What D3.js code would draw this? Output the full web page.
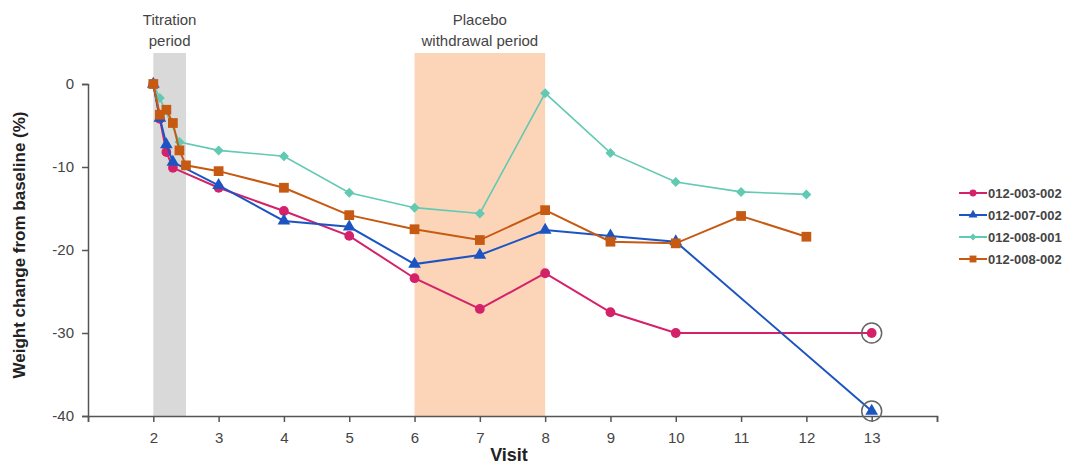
<!DOCTYPE html>
<html>
<head>
<meta charset="utf-8">
<script src="https://d3js.org/d3.v7.min.js"></script>
<style>
  body { margin: 0; background: #fff; }
  svg text { font-family: "Liberation Sans", Arial, sans-serif; }
</style>
</head>
<body>
<div id="chart"></div>
<script>
// visits (titration visits are spread between 2 and 2.5)
var visitTicks = [1, 2, 3, 4, 5, 6, 7, 8, 9, 10, 11, 12, 13, 14];
var yTicks = [0, -10, -20, -30, -40];
var seriesNames = ["012-003-002", "012-007-002", "012-008-001", "012-008-002"];
var seriesColors = ["#d5206a", "#1c55c2", "#62c9b2", "#c65a12"];
var seriesShapes = ["circle", "triangle", "diamond", "square"];

var visits_003_002 = [2, 2.1, 2.2, 2.3, 3, 4, 5, 6, 7, 8, 9, 10, 13];
var weight_003_002 = [0, -4.2, -8.2, -10.1, -12.5, -15.3, -18.3, -23.4, -27.1, -22.8, -27.5, -30.0, -30.0];

var visits_007_002 = [2, 2.1, 2.2, 2.3, 3, 4, 5, 6, 7, 8, 9, 10, 13];
var weight_007_002 = [0, -4.1, -7.3, -9.4, -12.2, -16.5, -17.2, -21.7, -20.6, -17.6, -18.3, -19.0, -39.4];

var visits_008_001 = [2, 2.1, 2.4, 3, 4, 5, 6, 7, 8, 9, 10, 11, 12];
var weight_008_001 = [0, -1.7, -7.0, -8.0, -8.7, -13.1, -14.9, -15.6, -1.1, -8.3, -11.8, -13.0, -13.3];

var visits_008_002 = [2, 2.1, 2.2, 2.3, 2.4, 2.5, 3, 4, 5, 6, 7, 8, 9, 10, 11, 12];
var weight_008_002 = [0, -3.7, -3.1, -4.7, -8.0, -9.8, -10.5, -12.5, -15.8, -17.5, -18.8, -15.2, -19.0, -19.2, -15.9, -18.4];

// final visit points that are circled
var circled = [{visit: 13, value: -30.0}, {visit: 13, value: -39.4}];

var bands = [
  {from: 2, to: 2.5, color: "#d9d9d9", label: ["Titration", "period"]},
  {from: 6, to: 8, color: "#fcd5b8", label: ["Placebo", "withdrawal period"]}
];

var width = 1070, height = 464;
var svg = d3.select("#chart").append("svg")
    .attr("width", width)
    .attr("height", height);

var x = d3.scaleLinear().domain([1, 14]).range([88, 937]);
var y = d3.scaleLinear().domain([-40, 0]).range([416, 84]);

// background bands
bands.forEach(function (b) {
  svg.append("rect")
    .attr("x", x(b.from))
    .attr("y", 53)
    .attr("width", x(b.to) - x(b.from))
    .attr("height", y(-40) - 53)
    .attr("fill", b.color);
  var t = svg.append("text")
    .attr("text-anchor", "middle")
    .attr("font-size", 15)
    .attr("fill", "#444");
  b.label.forEach(function (line, i) {
    t.append("tspan")
      .attr("x", (x(b.from) + x(b.to)) / 2)
      .attr("y", 25 + i * 21)
      .text(line);
  });
});

// axes
var xAxis = svg.append("g")
    .attr("transform", "translate(0," + y(-40) + ")")
    .call(d3.axisBottom(x).tickValues(visitTicks).tickSize(6).tickPadding(10)
      .tickFormat(function (d) { return (d >= 2 && d <= 13) ? d : ""; }));
var yAxis = svg.append("g")
    .attr("transform", "translate(" + x(1) + ",0)")
    .call(d3.axisLeft(y).tickValues(yTicks).tickSize(6).tickPadding(8)
      .tickFormat(function (d) { return String(d); }));
[xAxis, yAxis].forEach(function (a) {
  a.select(".domain").attr("stroke", "#555").attr("stroke-width", 1.5);
  a.selectAll(".tick line").attr("stroke", "#555").attr("stroke-width", 1.5);
  a.selectAll(".tick text").attr("font-size", 15).attr("fill", "#444")
    .attr("font-family", "Liberation Sans, Arial, sans-serif");
});

svg.append("text")
  .attr("x", 509).attr("y", 461)
  .attr("text-anchor", "middle")
  .attr("font-size", 18).attr("font-weight", "bold").attr("fill", "#222")
  .text("Visit");
svg.append("text")
  .attr("transform", "translate(25," + 245 + ") rotate(-90)")
  .attr("text-anchor", "middle")
  .attr("font-size", 17).attr("font-weight", "bold").attr("fill", "#222")
  .text("Weight change from baseline (%)");

// diamonds drawn as squares turned 45 degrees (wider than d3.symbolDiamond)
var symbolTypes = {
  circle: d3.symbolCircle,
  triangle: d3.symbolTriangle,
  diamond: d3.symbolSquare,
  square: d3.symbolSquare
};
var symbolRotate = {circle: 0, triangle: 0, diamond: 45, square: 0};
var symbolSizes = {circle: 75, triangle: 70, diamond: 50, square: 95};
var lineWidths = [2, 2, 1.6, 2];

var allSeries = [
  {visits: visits_003_002, values: weight_003_002},
  {visits: visits_007_002, values: weight_007_002},
  {visits: visits_008_001, values: weight_008_001},
  {visits: visits_008_002, values: weight_008_002}
];

var line = d3.line()
  .x(function (d) { return x(d.visit); })
  .y(function (d) { return y(d.value); });

allSeries.forEach(function (s, i) {
  var shape = seriesShapes[i];
  var pts = s.visits.map(function (v, j) { return {visit: v, value: s.values[j]}; });
  var g = svg.append("g");
  g.append("path")
    .datum(pts)
    .attr("d", line)
    .attr("fill", "none")
    .attr("stroke", seriesColors[i])
    .attr("stroke-width", lineWidths[i]);
  g.selectAll("path.pt")
    .data(pts)
    .enter().append("path")
    .attr("class", "pt")
    .attr("transform", function (d) {
      return "translate(" + x(d.visit) + "," + y(d.value) + ") rotate(" + symbolRotate[shape] + ")";
    })
    .attr("d", d3.symbol().type(symbolTypes[shape]).size(symbolSizes[shape]))
    .attr("fill", seriesColors[i]);
});

// circled end points
svg.selectAll("circle.mark")
  .data(circled)
  .enter().append("circle")
  .attr("class", "mark")
  .attr("cx", function (d) { return x(d.visit); })
  .attr("cy", function (d) { return y(d.value); })
  .attr("r", 10)
  .attr("fill", "none")
  .attr("stroke", "#666")
  .attr("stroke-width", 1.5);

// legend
var legend = svg.append("g").attr("transform", "translate(959,193)");
seriesNames.forEach(function (name, i) {
  var shape = seriesShapes[i];
  var row = legend.append("g").attr("transform", "translate(0," + (i * 22) + ")");
  row.append("line")
    .attr("x1", 0).attr("x2", 28)
    .attr("stroke", seriesColors[i]).attr("stroke-width", 2);
  row.append("path")
    .attr("transform", "translate(14,0) rotate(" + symbolRotate[shape] + ")")
    .attr("d", d3.symbol().type(symbolTypes[shape]).size(symbolSizes[shape] * 0.5))
    .attr("fill", seriesColors[i]);
  row.append("text")
    .attr("x", 29).attr("y", 5)
    .attr("font-size", 13).attr("font-weight", "bold").attr("fill", "#444")
    .text(name);
});
</script>
</body>
</html>
